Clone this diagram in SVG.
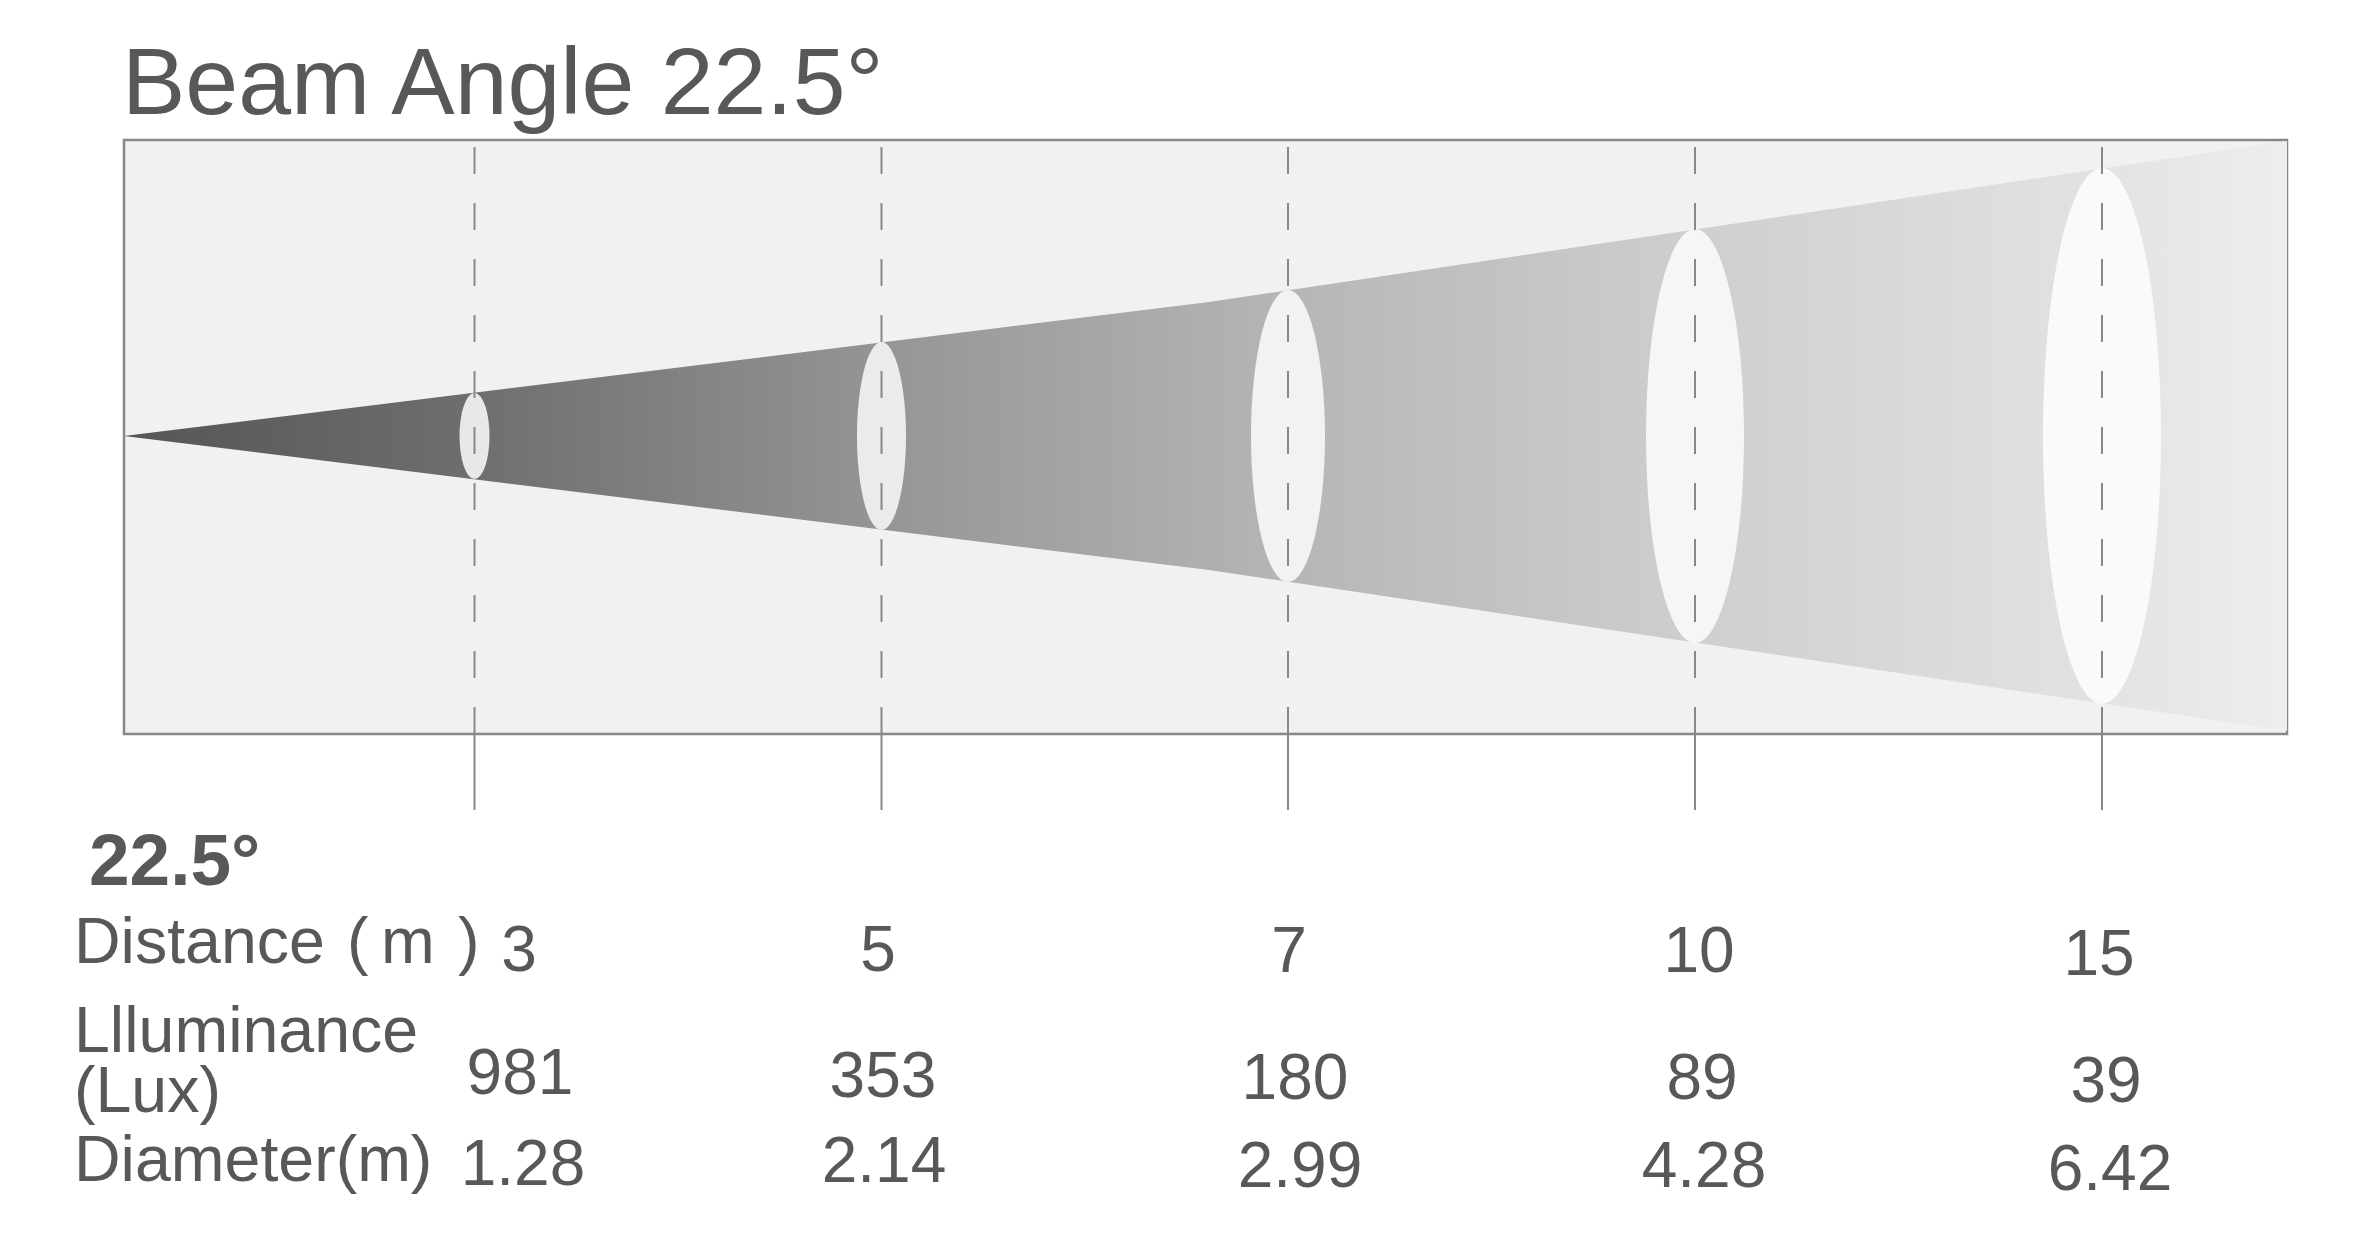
<svg xmlns="http://www.w3.org/2000/svg" width="2367" height="1242" viewBox="0 0 2367 1242">
  <style>
    .t { font-family: "Liberation Sans", Arial, sans-serif; fill: #595757; }
    .lbl { font-size: 64.5px; }
    .num { font-size: 64px; text-anchor: middle; }
    .dash { stroke: #888888; stroke-width: 2; stroke-dasharray: 27 29; fill: none; }
    .tick { stroke: #888888; stroke-width: 2; fill: none; }
  </style>
  <defs>
    <linearGradient id="beamGrad" gradientUnits="userSpaceOnUse" x1="124" y1="0" x2="2287" y2="0">
      <stop offset="0" stop-color="#555555"/>
      <stop offset="0.16" stop-color="#6e6e6e"/>
      <stop offset="0.35" stop-color="#959595"/>
      <stop offset="0.54" stop-color="#b6b6b6"/>
      <stop offset="0.73" stop-color="#cfcfcf"/>
      <stop offset="0.92" stop-color="#e3e3e3"/>
      <stop offset="1" stop-color="#eeeeee"/>
    </linearGradient>
  </defs>
  <rect width="2367" height="1242" fill="#ffffff"/>

  <text id="title" class="t" x="122" y="114" font-size="95">Beam Angle 22.5°</text>

  <g id="panel">
    <rect x="124" y="140" width="2163" height="594" fill="#f1f1f1" stroke="#878787" stroke-width="2.5"/>
    <polygon id="beam" points="124,436 1209,302 2287,141 2287,731 1209,570" fill="url(#beamGrad)"/>
  </g>

  <g id="spots">
    <ellipse id="spot3" cx="474.5" cy="436" rx="15" ry="43" fill="#e8e8e8"/>
    <ellipse id="spot5" cx="881.5" cy="436" rx="24.5" ry="94" fill="#ebebeb"/>
    <ellipse id="spot7" cx="1288" cy="436" rx="37" ry="146" fill="#f2f2f2"/>
    <ellipse id="spot10" cx="1695" cy="436" rx="49" ry="207" fill="#f6f6f6"/>
    <ellipse id="spot15" cx="2102" cy="436" rx="59" ry="268" fill="#fafafa"/>
  </g>

  <g id="connectors">
    <line class="dash" x1="474.5" y1="147" x2="474.5" y2="734"/>
    <line class="tick" x1="474.5" y1="734" x2="474.5" y2="810"/>
    <line class="dash" x1="881.5" y1="147" x2="881.5" y2="734"/>
    <line class="tick" x1="881.5" y1="734" x2="881.5" y2="810"/>
    <line class="dash" x1="1288" y1="147" x2="1288" y2="734"/>
    <line class="tick" x1="1288" y1="734" x2="1288" y2="810"/>
    <line class="dash" x1="1695" y1="147" x2="1695" y2="734"/>
    <line class="tick" x1="1695" y1="734" x2="1695" y2="810"/>
    <line class="dash" x1="2102" y1="147" x2="2102" y2="734"/>
    <line class="tick" x1="2102" y1="734" x2="2102" y2="810"/>
  </g>

  <g id="table">
    <text class="t" x="89" y="885" font-size="73" font-weight="bold">22.5°</text>
    <text class="t lbl" y="963"><tspan x="74">Distance</tspan><tspan x="347">(</tspan><tspan x="381">m</tspan><tspan x="458">)</tspan></text>
    <text class="t lbl" x="74" y="1052">Llluminance</text>
    <text class="t lbl" x="74" y="1112">(Lux)</text>
    <text class="t lbl" x="74" y="1181">Diameter(m)</text>

    <text class="t num" x="519" y="971">3</text>
    <text class="t num" x="878" y="971">5</text>
    <text class="t num" x="1289" y="972">7</text>
    <text class="t num" x="1699" y="972">10</text>
    <text class="t num" x="2099" y="975">15</text>

    <text class="t num" x="520" y="1094">981</text>
    <text class="t num" x="883" y="1097">353</text>
    <text class="t num" x="1295" y="1099">180</text>
    <text class="t num" x="1702" y="1099">89</text>
    <text class="t num" x="2106" y="1102">39</text>

    <text class="t num" x="523" y="1185">1.28</text>
    <text class="t num" x="884" y="1182">2.14</text>
    <text class="t num" x="1300" y="1187">2.99</text>
    <text class="t num" x="1704" y="1187">4.28</text>
    <text class="t num" x="2110" y="1190">6.42</text>
  </g>
</svg>
